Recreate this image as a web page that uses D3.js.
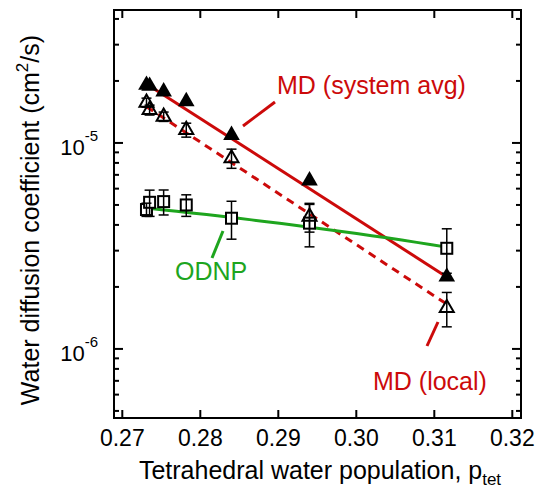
<!DOCTYPE html>
<html>
<head>
<meta charset="utf-8">
<script src="https://cdn.jsdelivr.net/npm/d3@7"></script>
<style>
  body { margin: 0; background: #fff; }
  text { font-family: "Liberation Sans", Arial, sans-serif; }
</style>
</head>
<body>
<div id="chart"></div>
<script>
// tetrahedral water population (x) for each sample
const pTet = [0.2731, 0.2735, 0.2753, 0.2782, 0.2840, 0.2940, 0.3116];
// diffusion coefficients, cm^2/s
const mdSystem = [1.91e-5, 1.89e-5, 1.775e-5, 1.59e-5, 1.09e-5, 6.56e-6, 2.24e-6];
const mdLocal = [1.57e-5, 1.446e-5, 1.342e-5, 1.157e-5, 8.43e-6, 4.39e-6, 1.58e-6];
const mdLocalErr = [0.08e-5, 0.08e-5, 0.07e-5, 0.09e-5, 0.9e-6, 0.7e-6, 0.3e-6];
const odnp = [4.75e-6, 5.15e-6, 5.19e-6, 5.0e-6, 4.31e-6, 4.08e-6, 3.08e-6];
const odnpErr = [0.35e-6, 0.75e-6, 0.72e-6, 0.6e-6, 0.9e-6, 0.95e-6, 0.75e-6];

// fitted lines, start and end values
const fitX = [0.2731, 0.3116];
const mdSystemFit = [1.934e-5, 2.236e-6];
const mdLocalFit = [1.50e-5, 1.65e-6];
const odnpFit = [4.83e-6, 3.12e-6];

const xTicks = [0.27, 0.28, 0.29, 0.30, 0.31, 0.32];
const yMajor = [1e-6, 1e-5];
const yMajorExp = ["-6", "-5"];
const yMinor = [5e-7, 6e-7, 7e-7, 8e-7, 9e-7, 2e-6, 3e-6, 4e-6, 5e-6, 6e-6, 7e-6, 8e-6, 9e-6, 2e-5, 3e-5, 4e-5];

const width = 540, height = 489;
const mLeft = 114, mRight = 521, mTop = 10, mBottom = 418;
const red = "#cc0a0a", green = "#1ea51e";

const svg = d3.select("#chart").append("svg")
  .attr("width", width).attr("height", height);

const x = d3.scaleLinear().domain([0.268936, 0.321115]).range([mLeft, mRight]);
const y = d3.scaleLog().domain([4.62e-7, 4.42e-5]).range([mBottom, mTop]);

// ticks (inside, on all four sides)
const tickG = svg.append("g").attr("stroke", "#000").attr("stroke-width", 2);
xTicks.forEach(t => {
  tickG.append("line").attr("x1", x(t)).attr("x2", x(t)).attr("y1", mBottom).attr("y2", mBottom - 8);
  tickG.append("line").attr("x1", x(t)).attr("x2", x(t)).attr("y1", mTop).attr("y2", mTop + 8);
});
yMajor.forEach(t => {
  tickG.append("line").attr("x1", mLeft).attr("x2", mLeft + 9).attr("y1", y(t)).attr("y2", y(t));
  tickG.append("line").attr("x1", mRight).attr("x2", mRight - 9).attr("y1", y(t)).attr("y2", y(t));
});
yMinor.forEach(t => {
  tickG.append("line").attr("x1", mLeft).attr("x2", mLeft + 5).attr("y1", y(t)).attr("y2", y(t));
  tickG.append("line").attr("x1", mRight).attr("x2", mRight - 5).attr("y1", y(t)).attr("y2", y(t));
});

// frame
svg.append("rect")
  .attr("x", mLeft).attr("y", mTop)
  .attr("width", mRight - mLeft).attr("height", mBottom - mTop)
  .attr("fill", "none").attr("stroke", "#000").attr("stroke-width", 2);

// tick labels
svg.append("g").selectAll("text").data(xTicks).enter().append("text")
  .attr("x", d => x(d)).attr("y", 446)
  .attr("text-anchor", "middle").attr("font-size", 23)
  .text(d => d3.format(".2f")(d));

yMajor.forEach((t, i) => {
  const lab = svg.append("text")
    .attr("x", 98).attr("y", y(t) + 12)
    .attr("text-anchor", "end").attr("font-size", 22);
  lab.append("tspan").text("10");
  lab.append("tspan").attr("dy", -14).attr("font-size", 15).text(yMajorExp[i]);
});

// axis titles
const xt = svg.append("text")
  .attr("x", 320).attr("y", 479)
  .attr("text-anchor", "middle").attr("font-size", 25);
xt.append("tspan").text("Tetrahedral water population, p");
xt.append("tspan").attr("dy", 6).attr("font-size", 17).text("tet");

const yt = svg.append("text")
  .attr("transform", "translate(39," + 220 + ") rotate(-90)")
  .attr("text-anchor", "middle").attr("font-size", 25);
yt.append("tspan").text("Water diffusion coefficient (cm");
yt.append("tspan").attr("dy", -11).attr("font-size", 17).text("2");
yt.append("tspan").attr("dy", 11).text("/s)");

// fit lines
const lineGen = d3.line().x(d => x(d[0])).y(d => y(d[1]));
svg.append("path")
  .attr("d", lineGen(fitX.map((p, i) => [p, mdSystemFit[i]])))
  .attr("fill", "none").attr("stroke", red).attr("stroke-width", 3);
svg.append("path")
  .attr("d", lineGen(fitX.map((p, i) => [p, mdLocalFit[i]])))
  .attr("fill", "none").attr("stroke", red).attr("stroke-width", 3)
  .attr("stroke-dasharray", "8,6");
// ODNP fit is linear in D, so it bends on the log axis
const odnpLine = d3.range(0, 1.0001, 0.05).map(t => [
  d3.interpolateNumber(fitX[0], fitX[1])(t),
  d3.interpolateNumber(odnpFit[0], odnpFit[1])(t)
]);
svg.append("path")
  .attr("d", lineGen(odnpLine))
  .attr("fill", "none").attr("stroke", green).attr("stroke-width", 3);

// error bars
function errBars(vals, errs) {
  const g = svg.append("g").attr("stroke", "#000").attr("stroke-width", 1.5);
  vals.forEach((v, i) => {
    const cx = x(pTet[i]), y1 = y(v + errs[i]), y2 = y(v - errs[i]);
    g.append("line").attr("x1", cx).attr("x2", cx).attr("y1", y1).attr("y2", y2);
    g.append("line").attr("x1", cx - 5).attr("x2", cx + 5).attr("y1", y1).attr("y2", y1);
    g.append("line").attr("x1", cx - 5).attr("x2", cx + 5).attr("y1", y2).attr("y2", y2);
  });
}

// ODNP squares
svg.append("g").selectAll("rect").data(odnp).enter().append("rect")
  .attr("x", (d, i) => x(pTet[i]) - 5.5).attr("y", d => y(d) - 5.5)
  .attr("width", 11).attr("height", 11)
  .attr("fill", "#fff").attr("stroke", "#000").attr("stroke-width", 2);
errBars(odnp, odnpErr);

// MD local, open triangles
errBars(mdLocal, mdLocalErr);
const tri = d3.symbol().type(d3.symbolTriangle);
svg.append("g").selectAll("path").data(mdLocal).enter().append("path")
  .attr("transform", (d, i) => "translate(" + x(pTet[i]) + "," + y(d) + ")")
  .attr("d", tri.size(85)())
  .attr("fill", "none").attr("stroke", "#000").attr("stroke-width", 2);

// MD system avg, filled triangles
svg.append("g").selectAll("path").data(mdSystem).enter().append("path")
  .attr("transform", (d, i) => "translate(" + x(pTet[i]) + "," + y(d) + ")")
  .attr("d", tri.size(120)())
  .attr("fill", "#000");

// labels with leader lines
svg.append("line").attr("x1", 243).attr("y1", 126).attr("x2", 275).attr("y2", 102)
  .attr("stroke", red).attr("stroke-width", 3);
svg.append("text").attr("x", 277).attr("y", 94).attr("font-size", 25)
  .attr("fill", red).text("MD (system avg)");

svg.append("line").attr("x1", 223).attr("y1", 231).attr("x2", 212).attr("y2", 258)
  .attr("stroke", green).attr("stroke-width", 3);
svg.append("text").attr("x", 175).attr("y", 280).attr("font-size", 25)
  .attr("fill", green).text("ODNP");

svg.append("line").attr("x1", 438).attr("y1", 322).attr("x2", 427).attr("y2", 346)
  .attr("stroke", red).attr("stroke-width", 3);
svg.append("text").attr("x", 373).attr("y", 390).attr("font-size", 25)
  .attr("fill", red).text("MD (local)");
</script>
</body>
</html>
